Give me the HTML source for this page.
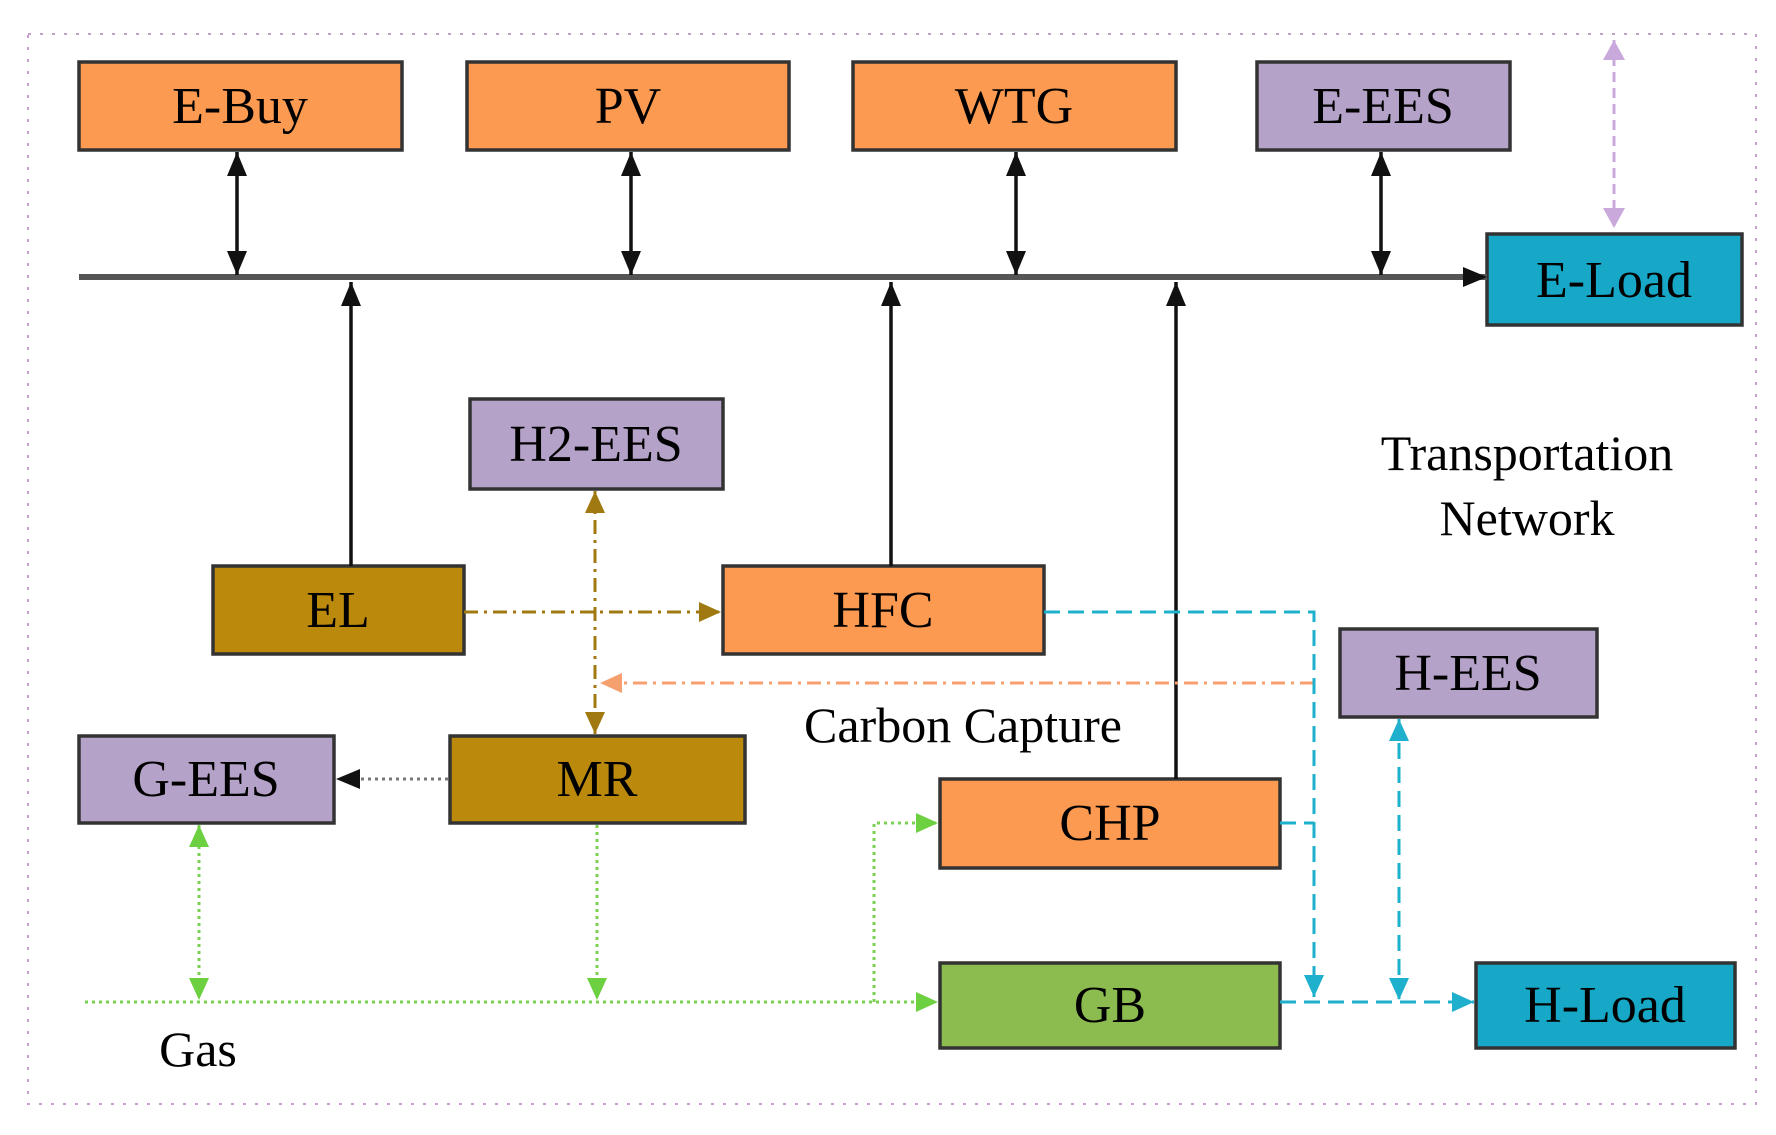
<!DOCTYPE html>
<html><head><meta charset="utf-8"><style>
body{margin:0;background:#fff;}
svg text{font-family:"Liberation Serif",serif;}
</style></head><body>
<svg width="1776" height="1130" xmlns="http://www.w3.org/2000/svg">
<defs>
<marker id="ab" markerWidth="10" markerHeight="10" refX="9" refY="5" orient="auto-start-reverse" markerUnits="userSpaceOnUse" viewBox="0 0 10 10"><path d="M0,0 L10,5 L0,10z" fill="#111"/></marker>
<marker id="ap" markerWidth="20" markerHeight="22" refX="20" refY="11" orient="auto-start-reverse" markerUnits="userSpaceOnUse"><path d="M0,0 L20,11 L0,22z" fill="#c9a8dc"/></marker>
<marker id="ak" markerWidth="24" markerHeight="24" refX="24" refY="12" orient="auto-start-reverse" markerUnits="userSpaceOnUse"><path d="M0,2 L24,12 L0,22z" fill="#111"/></marker>
<marker id="ao" markerWidth="22" markerHeight="22" refX="22" refY="11" orient="auto-start-reverse" markerUnits="userSpaceOnUse"><path d="M0,1 L22,11 L0,21z" fill="#a07a10"/></marker>
<marker id="aor" markerWidth="22" markerHeight="22" refX="22" refY="11" orient="auto-start-reverse" markerUnits="userSpaceOnUse"><path d="M0,1 L22,11 L0,21z" fill="#f6a070"/></marker>
<marker id="ac" markerWidth="22" markerHeight="22" refX="22" refY="11" orient="auto-start-reverse" markerUnits="userSpaceOnUse"><path d="M0,1 L22,11 L0,21z" fill="#1eb0cc"/></marker>
<marker id="ag" markerWidth="22" markerHeight="22" refX="22" refY="11" orient="auto-start-reverse" markerUnits="userSpaceOnUse"><path d="M0,1 L22,11 L0,21z" fill="#6cd040"/></marker>
</defs>
<rect x="28" y="34" width="1728" height="1070" fill="none" stroke="#c8a0d0" stroke-width="2" stroke-dasharray="3,9"/>
<g stroke="#333" stroke-width="3.5" font-size="52" text-anchor="middle">
<rect x="79" y="62" width="323" height="88" fill="#fb9a50"/>
<rect x="467" y="62" width="322" height="88" fill="#fb9a50"/>
<rect x="853" y="62" width="323" height="88" fill="#fb9a50"/>
<rect x="1257" y="62" width="253" height="88" fill="#b4a2c8"/>
<rect x="1487" y="234" width="255" height="91" fill="#16a8c6"/>
<rect x="470" y="399" width="253" height="90" fill="#b4a2c8"/>
<rect x="213" y="566" width="251" height="88" fill="#bb8a0c"/>
<rect x="723" y="566" width="321" height="88" fill="#fb9a50"/>
<rect x="79" y="736" width="255" height="87" fill="#b4a2c8"/>
<rect x="450" y="736" width="295" height="87" fill="#bb8a0c"/>
<rect x="940" y="779" width="340" height="89" fill="#fb9a50"/>
<rect x="1340" y="629" width="257" height="88" fill="#b4a2c8"/>
<rect x="940" y="963" width="340" height="85" fill="#8cbc50"/>
<rect x="1476" y="963" width="259" height="85" fill="#16a8c6"/>
</g>
<g font-size="52" text-anchor="middle" fill="#000">
<text x="240" y="123">E-Buy</text>
<text x="628" y="123">PV</text>
<text x="1014" y="123">WTG</text>
<text x="1383" y="123">E-EES</text>
<text x="1614" y="297">E-Load</text>
<text x="596" y="461">H2-EES</text>
<text x="338" y="627">EL</text>
<text x="883" y="627">HFC</text>
<text x="206" y="796">G-EES</text>
<text x="597" y="796">MR</text>
<text x="1110" y="840">CHP</text>
<text x="1468" y="690">H-EES</text>
<text x="1110" y="1022">GB</text>
<text x="1605" y="1022">H-Load</text>
<text x="1527" y="470" font-size="50">Transportation</text>
<text x="1527" y="535" font-size="50">Network</text>
<text x="963" y="742" font-size="50">Carbon Capture</text>
<text x="198" y="1066" font-size="50">Gas</text>
</g>
<line x1="79" y1="277" x2="1487" y2="277" stroke="#555" stroke-width="6" marker-end="url(#ak)"/>
<g stroke="#111" stroke-width="3.5">
<line x1="237" y1="152" x2="237" y2="275" marker-start="url(#ak)" marker-end="url(#ak)"/>
<line x1="631" y1="152" x2="631" y2="275" marker-start="url(#ak)" marker-end="url(#ak)"/>
<line x1="1016" y1="152" x2="1016" y2="275" marker-start="url(#ak)" marker-end="url(#ak)"/>
<line x1="1381" y1="152" x2="1381" y2="275" marker-start="url(#ak)" marker-end="url(#ak)"/>
<line x1="351" y1="566" x2="351" y2="282" marker-end="url(#ak)"/>
<line x1="891" y1="566" x2="891" y2="282" marker-end="url(#ak)"/>
<line x1="1176" y1="779" x2="1176" y2="282" marker-end="url(#ak)"/>
</g>
<line x1="1614" y1="40" x2="1614" y2="228" stroke="#c9a8dc" stroke-width="3" stroke-dasharray="10,6" marker-start="url(#ap)" marker-end="url(#ap)"/>
<g stroke="#a07a10" stroke-width="3" stroke-dasharray="14,6,3,6" fill="none">
<line x1="464" y1="612" x2="721" y2="612" marker-end="url(#ao)"/>
<line x1="595" y1="491" x2="595" y2="734" marker-start="url(#ao)" marker-end="url(#ao)"/>
</g>
<line x1="1314" y1="683" x2="600" y2="683" stroke="#f6a070" stroke-width="3" stroke-dasharray="14,6,3,6" marker-end="url(#aor)"/>
<g stroke="#1eb0cc" stroke-width="3" stroke-dasharray="16,8" fill="none">
<polyline points="1044,612 1314,612 1314,997" marker-end="url(#ac)"/>
<line x1="1280" y1="823" x2="1314" y2="823"/>
<line x1="1280" y1="1002" x2="1474" y2="1002" marker-end="url(#ac)"/>
<line x1="1399" y1="719" x2="1399" y2="1000" marker-start="url(#ac)" marker-end="url(#ac)"/>
</g>
<line x1="448" y1="779" x2="336" y2="779" stroke="#777" stroke-width="3" stroke-dasharray="3,4" marker-end="url(#ak)"/>
<g stroke="#7ad050" stroke-width="3" stroke-dasharray="3,4" fill="none">
<line x1="199" y1="825" x2="199" y2="1000" marker-start="url(#ag)" marker-end="url(#ag)"/>
<line x1="597" y1="825" x2="597" y2="1000" marker-end="url(#ag)"/>
<line x1="85" y1="1002" x2="938" y2="1002" marker-end="url(#ag)"/>
<polyline points="874,1002 874,823 938,823" marker-end="url(#ag)"/>
</g>
</svg>
</body></html>
